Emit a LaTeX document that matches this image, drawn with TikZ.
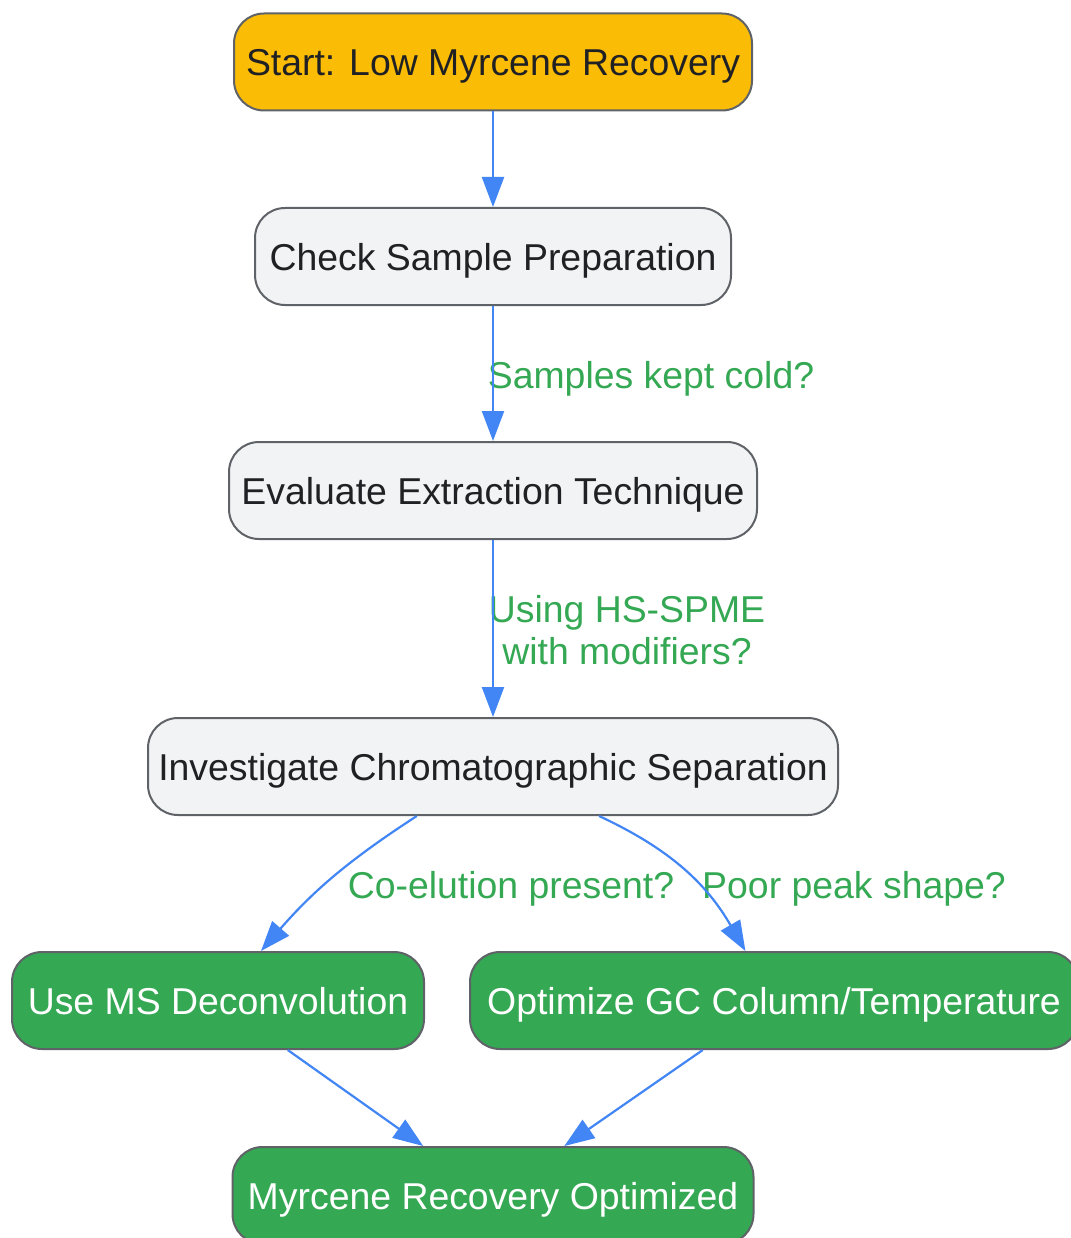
\documentclass[tikz,border=0pt]{standalone}
\usepackage{fontspec}
\setmainfont{Liberation Sans}
\usetikzlibrary{arrows.meta}
\definecolor{gOrange}{HTML}{FBBC05}
\definecolor{gGray}{HTML}{F1F3F4}
\definecolor{gBorder}{HTML}{5F6368}
\definecolor{gText}{HTML}{202124}
\definecolor{gGreen}{HTML}{34A853}
\definecolor{gBlue}{HTML}{4285F4}
\tikzset{
  box/.style={draw=gBorder, line width=2pt, rounded corners=30pt, minimum height=97pt,
    inner sep=0pt, text height=30pt, text depth=2pt, font=\fontsize{37.4}{44}\selectfont, text=gText, fill=gGray},
  startbox/.style={box, fill=gOrange},
  endbox/.style={box, fill=gGreen, text=white},
  lbl/.style={font=\fontsize{37.4}{42}\selectfont, text=gGreen, align=center, inner sep=0pt},
  conn/.style={draw=gBlue, line width=2.2pt, -{Triangle[width=22pt,length=30pt]}},
}
\begin{document}
\begin{tikzpicture}[x=1pt,y=-1pt]
\useasboundingbox (0,0) rectangle (1070,1238);
\node[startbox, minimum width=518pt] (start) at (493,62) {Start: Low Myrcene Recovery};
\node[box, minimum width=476pt] (chk) at (493,256.5) {Check Sample Preparation};
\node[box, minimum width=528pt] (ev) at (493,490.5) {Evaluate Extraction Technique};
\node[box, minimum width=690pt] (inv) at (493,766.5) {Investigate Chromatographic Separation};
\node[endbox, minimum width=412pt] (ms) at (218,1000.5) {Use MS Deconvolution};
\node[endbox, minimum width=608pt] (opt) at (774,1000.5) {Optimize GC Column/Temperature};
\node[endbox, minimum width=521pt] (fin) at (493,1195.5) {Myrcene Recovery Optimized};

\node[lbl] (l1) at (651,379) {Samples kept cold?};
\node[lbl] (l2) at (627,630) {Using HS-SPME\\with modifiers?};
\node[lbl] (l3) at (511,889) {Co-elution present?};
\node[lbl] (l4) at (854,889) {Poor peak shape?};

\draw[conn] (start) -- (chk);
\draw[conn] (chk) -- (ev);
\draw[conn] (ev) -- (inv);
\draw[conn] (inv) to[out=213,in=49] (ms);
\draw[conn] (inv) to[out=-25,in=120] (opt);
\draw[conn] (ms) -- (fin);
\draw[conn] (opt) -- (fin);
\end{tikzpicture}
\end{document}
